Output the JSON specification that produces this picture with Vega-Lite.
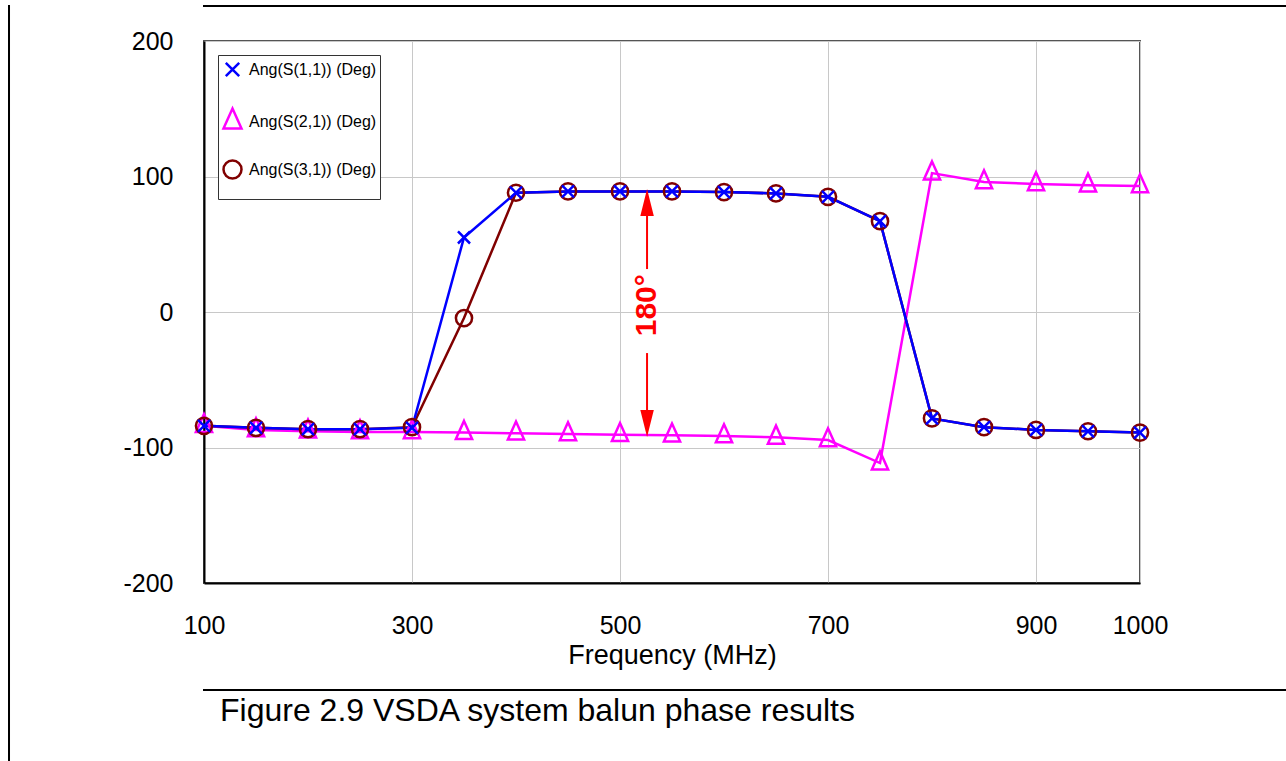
{
  "$schema": "https://vega.github.io/schema/vega-lite/v6.json",
  "padding": {"left": 8, "top": 5, "right": 0, "bottom": 0},
  "background": "white",
  "config": {
    "font": "Liberation Sans",
    "view": {"stroke": null},
    "axis": {"labelFont": "Liberation Sans", "titleFont": "Liberation Sans", "labelColor": "black", "titleColor": "black"}
  },
  "datasets": {
    "series": [
      {"f": 100, "v": -84, "s": "Ang(S(2,1)) (Deg)"},
      {"f": 150, "v": -87, "s": "Ang(S(2,1)) (Deg)"},
      {"f": 200, "v": -88, "s": "Ang(S(2,1)) (Deg)"},
      {"f": 250, "v": -88.5, "s": "Ang(S(2,1)) (Deg)"},
      {"f": 300, "v": -88.5, "s": "Ang(S(2,1)) (Deg)"},
      {"f": 350, "v": -89, "s": "Ang(S(2,1)) (Deg)"},
      {"f": 400, "v": -89.5, "s": "Ang(S(2,1)) (Deg)"},
      {"f": 450, "v": -90, "s": "Ang(S(2,1)) (Deg)"},
      {"f": 500, "v": -90.5, "s": "Ang(S(2,1)) (Deg)"},
      {"f": 550, "v": -91, "s": "Ang(S(2,1)) (Deg)"},
      {"f": 600, "v": -91.5, "s": "Ang(S(2,1)) (Deg)"},
      {"f": 650, "v": -92.5, "s": "Ang(S(2,1)) (Deg)"},
      {"f": 700, "v": -94.5, "s": "Ang(S(2,1)) (Deg)"},
      {"f": 750, "v": -111.5, "s": "Ang(S(2,1)) (Deg)"},
      {"f": 800, "v": 102.5, "s": "Ang(S(2,1)) (Deg)"},
      {"f": 850, "v": 96, "s": "Ang(S(2,1)) (Deg)"},
      {"f": 900, "v": 94.5, "s": "Ang(S(2,1)) (Deg)"},
      {"f": 950, "v": 93.5, "s": "Ang(S(2,1)) (Deg)"},
      {"f": 1000, "v": 93, "s": "Ang(S(2,1)) (Deg)"},
      {"f": 100, "v": -84, "s": "Ang(S(3,1)) (Deg)"},
      {"f": 150, "v": -85.5, "s": "Ang(S(3,1)) (Deg)"},
      {"f": 200, "v": -86.5, "s": "Ang(S(3,1)) (Deg)"},
      {"f": 250, "v": -86.5, "s": "Ang(S(3,1)) (Deg)"},
      {"f": 300, "v": -85, "s": "Ang(S(3,1)) (Deg)"},
      {"f": 350, "v": -4.5, "s": "Ang(S(3,1)) (Deg)"},
      {"f": 400, "v": 88, "s": "Ang(S(3,1)) (Deg)"},
      {"f": 450, "v": 89, "s": "Ang(S(3,1)) (Deg)"},
      {"f": 500, "v": 89, "s": "Ang(S(3,1)) (Deg)"},
      {"f": 550, "v": 89, "s": "Ang(S(3,1)) (Deg)"},
      {"f": 600, "v": 88.5, "s": "Ang(S(3,1)) (Deg)"},
      {"f": 650, "v": 87.5, "s": "Ang(S(3,1)) (Deg)"},
      {"f": 700, "v": 85, "s": "Ang(S(3,1)) (Deg)"},
      {"f": 750, "v": 67, "s": "Ang(S(3,1)) (Deg)"},
      {"f": 800, "v": -78.5, "s": "Ang(S(3,1)) (Deg)"},
      {"f": 850, "v": -85, "s": "Ang(S(3,1)) (Deg)"},
      {"f": 900, "v": -87, "s": "Ang(S(3,1)) (Deg)"},
      {"f": 950, "v": -88, "s": "Ang(S(3,1)) (Deg)"},
      {"f": 1000, "v": -89, "s": "Ang(S(3,1)) (Deg)"},
      {"f": 100, "v": -84, "s": "Ang(S(1,1)) (Deg)"},
      {"f": 150, "v": -85.5, "s": "Ang(S(1,1)) (Deg)"},
      {"f": 200, "v": -86.5, "s": "Ang(S(1,1)) (Deg)"},
      {"f": 250, "v": -86.5, "s": "Ang(S(1,1)) (Deg)"},
      {"f": 300, "v": -85.5, "s": "Ang(S(1,1)) (Deg)"},
      {"f": 350, "v": 55, "s": "Ang(S(1,1)) (Deg)"},
      {"f": 400, "v": 88, "s": "Ang(S(1,1)) (Deg)"},
      {"f": 450, "v": 89, "s": "Ang(S(1,1)) (Deg)"},
      {"f": 500, "v": 89, "s": "Ang(S(1,1)) (Deg)"},
      {"f": 550, "v": 89, "s": "Ang(S(1,1)) (Deg)"},
      {"f": 600, "v": 88.5, "s": "Ang(S(1,1)) (Deg)"},
      {"f": 650, "v": 87.5, "s": "Ang(S(1,1)) (Deg)"},
      {"f": 700, "v": 85, "s": "Ang(S(1,1)) (Deg)"},
      {"f": 750, "v": 67, "s": "Ang(S(1,1)) (Deg)"},
      {"f": 800, "v": -78.5, "s": "Ang(S(1,1)) (Deg)"},
      {"f": 850, "v": -85, "s": "Ang(S(1,1)) (Deg)"},
      {"f": 900, "v": -87, "s": "Ang(S(1,1)) (Deg)"},
      {"f": 950, "v": -88, "s": "Ang(S(1,1)) (Deg)"},
      {"f": 1000, "v": -89, "s": "Ang(S(1,1)) (Deg)"}
    ],
    "arrowLines": [
      {"f": 526, "v": 31.7, "v2": 88},
      {"f": 526, "v": -30.3, "v2": -88}
    ],
    "headUp": [{"f": 526, "v": 80.8}],
    "headDown": [{"f": 526, "v": -82.3}],
    "note": [{"f": 526, "v": 5, "t": "180°"}]
  },
  "spacing": 0,
  "hconcat": [
    {
      "width": 0.01,
      "height": 755,
      "view": {"stroke": "black", "strokeWidth": 2},
      "data": {"values": []},
      "mark": "point",
      "encoding": {}
    },
    {
      "spacing": 20,
      "vconcat": [
        {
          "width": 1278,
          "height": 0.01,
          "view": {"stroke": "black", "strokeWidth": 2},
          "data": {"values": []},
          "mark": "point",
          "encoding": {}
        },
        {
          "hconcat": [
            {
              "width": 936,
              "height": 542,
              "view": {"stroke": "#555555", "strokeWidth": 2},
              "layer": [
                {
                  "data": {"name": "series"},
                  "encoding": {
                    "x": {
                      "field": "f", "type": "quantitative",
                      "scale": {"domain": [100, 1000], "nice": false, "zero": false},
                      "axis": {
                        "title": "Frequency (MHz)",
                        "values": [100, 300, 500, 700, 900, 1000],
                        "labelExpr": "'' + datum.value",
                        "grid": true, "gridColor": "#c8c8c8", "gridWidth": 1,
                        "ticks": false, "tickSize": 0,
                        "domain": true, "domainColor": "black", "domainWidth": 2,
                        "labelFontSize": 25, "labelPadding": 30,
                        "labelFlush": false, "labelOverlap": false,
                        "titleFontSize": 27, "titleFontWeight": "normal", "titlePadding": 4
                      }
                    },
                    "y": {
                      "field": "v", "type": "quantitative",
                      "scale": {"domain": [-200, 200], "nice": false, "zero": false},
                      "axis": {
                        "title": null,
                        "values": [-200, -100, 0, 100, 200],
                        "labelExpr": "datum.value < 0 ? '-' + abs(datum.value) : '' + datum.value",
                        "grid": true, "gridColor": "#c8c8c8", "gridWidth": 1,
                        "ticks": false, "tickSize": 0,
                        "domain": true, "domainColor": "black", "domainWidth": 2,
                        "labelFontSize": 25, "labelPadding": 31,
                        "minExtent": 192, "maxExtent": 192
                      }
                    },
                    "color": {
                      "field": "s", "type": "nominal",
                      "scale": {
                        "domain": ["Ang(S(1,1)) (Deg)", "Ang(S(2,1)) (Deg)", "Ang(S(3,1)) (Deg)"],
                        "range": ["#0000ff", "#ff00ff", "#800000"]
                      },
                      "legend": {
                        "orient": "none", "legendX": 209, "legendY": 49,
                        "title": " ", "titleOrient": "bottom", "titleFontSize": 8, "titlePadding": 4,
                        "padding": 3, "strokeColor": "#333333", "fillColor": "white",
                        "labelFontSize": 16, "labelFont": "Liberation Sans", "labelColor": "black",
                        "labelOffset": 5, "rowPadding": 21, "symbolSize": 400, "symbolStrokeWidth": 2.5
                      }
                    }
                  },
                  "layer": [
                    {"mark": {"type": "line", "strokeWidth": 2.5}},
                    {
                      "mark": {"type": "point", "filled": false, "strokeWidth": 2.5, "size": 324, "opacity": 1},
                      "encoding": {
                        "shape": {
                          "field": "s", "type": "nominal",
                          "scale": {
                            "domain": ["Ang(S(1,1)) (Deg)", "Ang(S(2,1)) (Deg)", "Ang(S(3,1)) (Deg)"],
                            "range": [
                              "M-0.67,-0.67L0.67,0.67M-0.67,0.67L0.67,-0.67",
                              "M0,-1.3L0.9,0.7L-0.9,0.7Z",
                              "M0.9,0A0.9,0.9,0,1,1,-0.9,0A0.9,0.9,0,1,1,0.9,0"
                            ]
                          },
                          "legend": null
                        }
                      }
                    }
                  ]
                },
                {
                  "data": {"name": "arrowLines"},
                  "mark": {"type": "rule", "color": "#ff0000", "strokeWidth": 2},
                  "encoding": {
                    "x": {"field": "f", "type": "quantitative"},
                    "y": {"field": "v", "type": "quantitative"},
                    "y2": {"field": "v2"}
                  }
                },
                {
                  "data": {"name": "headUp"},
                  "mark": {"type": "point", "shape": "M0,-1L0.5,1L-0.5,1Z", "filled": true, "color": "#ff0000", "size": 729, "opacity": 1},
                  "encoding": {
                    "x": {"field": "f", "type": "quantitative"},
                    "y": {"field": "v", "type": "quantitative"}
                  }
                },
                {
                  "data": {"name": "headDown"},
                  "mark": {"type": "point", "shape": "M0,1L0.5,-1L-0.5,-1Z", "filled": true, "color": "#ff0000", "size": 729, "opacity": 1},
                  "encoding": {
                    "x": {"field": "f", "type": "quantitative"},
                    "y": {"field": "v", "type": "quantitative"}
                  }
                },
                {
                  "data": {"name": "note"},
                  "mark": {"type": "text", "angle": 270, "fontSize": 30, "fontWeight": "bold", "color": "#ff0000", "align": "center", "baseline": "middle", "font": "Liberation Sans"},
                  "encoding": {
                    "x": {"field": "f", "type": "quantitative"},
                    "y": {"field": "v", "type": "quantitative"},
                    "text": {"field": "t"}
                  }
                }
              ]
            }
          ]
        },
        {
          "width": 1278,
          "height": 0.01,
          "view": {"stroke": "black", "strokeWidth": 2},
          "title": {
            "text": "Figure 2.9 VSDA system balun phase results",
            "orient": "bottom", "anchor": "start", "frame": "group",
            "offset": 6, "dx": 16,
            "fontSize": 32, "font": "Liberation Sans", "fontWeight": "normal", "color": "black"
          },
          "data": {"values": []},
          "mark": "point",
          "encoding": {}
        }
      ]
    }
  ]
}
